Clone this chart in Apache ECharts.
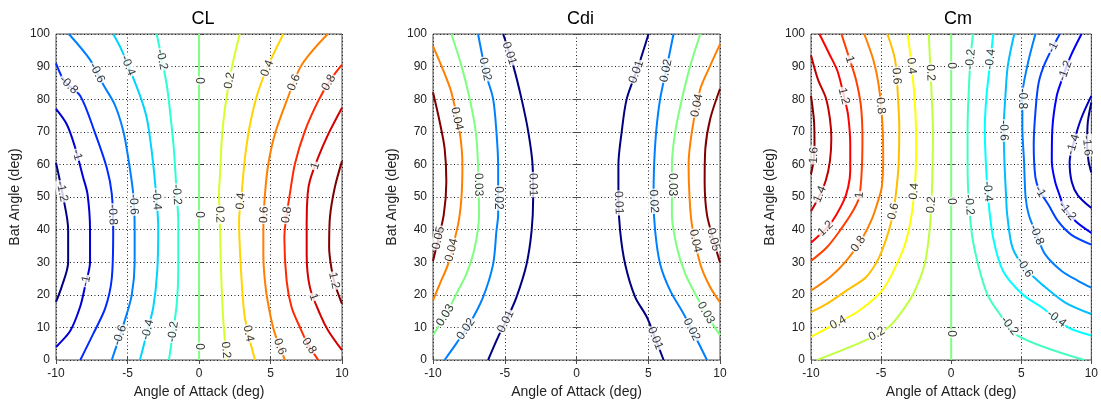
<!DOCTYPE html>
<html><head><meta charset="utf-8">
<script src="https://cdn.jsdelivr.net/npm/echarts@6/dist/echarts.min.js"></script>
<style>html,body{margin:0;padding:0;background:#fff}#c{width:1101px;height:404px}</style>
</head><body><div id="c"></div>
<script>
// ---------- DATA (contour polylines in data coordinates: [angle of attack, bat angle]) ----------
const xTicks = [-10, -5, 0, 5, 10];
const yTicks = [0, 10, 20, 30, 40, 50, 60, 70, 80, 90, 100];
const titles = ['CL', 'Cdi', 'Cm'];

// CL contours
const cl_levels = [-1.2, -1, -0.8, -0.6, -0.4, -0.2, 0, 0.2, 0.4, 0.6, 0.8, 1, 1.2];
const cl_m12 = [[-10,60.5],[-9.5,50],[-9.15,40],[-9.15,30],[-9.6,22.5],[-10,17.8]];
const cl_m10 = [[-10,77],[-9.25,72.3],[-8.67,65.3],[-8.1,56],[-7.8,51],[-7.62,40],[-7.62,30],[-7.95,23],[-8.3,16.5],[-9.0,9],[-10,4]];
const cl_m08 = [[-10,91],[-9.4,85.5],[-8.3,81],[-7.3,70],[-6.45,59],[-6.1,51],[-6.0,40],[-6.1,25],[-6.55,16],[-7.4,8],[-8.3,0]];
const cl_m06 = [[-9.1,100],[-7.6,92],[-6.7,84.5],[-5.9,78.4],[-5.3,70.3],[-4.95,62],[-4.6,51],[-4.5,40],[-4.5,30],[-4.7,20],[-5.2,12],[-6.1,0]];
const cl_m04 = [[-6.0,100],[-5.4,95],[-4.24,82.5],[-3.66,74.4],[-3.31,64.2],[-3.0,51],[-2.85,40.4],[-2.92,27.3],[-3.2,16.1],[-3.6,9],[-4.13,0]];
const cl_m02 = [[-2.96,100],[-2.26,84.5],[-1.98,74.4],[-1.75,64.2],[-1.56,51],[-1.45,42.5],[-1.45,27.3],[-1.56,17.1],[-1.8,9],[-2.1,0]];
const cl_z00 = [[0,0],[0,50],[0,100]];
const cl_p02 = [[2.85,100],[2.29,89.6],[1.82,77.4],[1.59,67.3],[1.47,57.1],[1.4,51],[1.47,40.4],[1.54,27.3],[1.7,12.1],[1.94,0]];
const cl_p04 = [[5.9,100],[4.97,91.6],[4.15,82.5],[3.57,72.3],[3.22,62.2],[2.98,51.1],[2.8,42.5],[2.94,27.3],[3.17,14.1],[3.5,7],[3.92,0]];
const cl_p06 = [[9.0,100],[7.88,94.6],[7.06,89.6],[6.13,79.5],[5.31,69.3],[4.85,60.2],[4.62,51.1],[4.5,40],[4.5,32.3],[4.66,22.2],[4.97,14.1],[5.31,8],[6.01,0]];
const cl_p08 = [[10,90.6],[9.2,86],[8.34,79.5],[7.41,70.3],[6.71,60.2],[6.36,51.1],[6.05,42],[5.97,37.4],[6.13,24.2],[6.48,16.1],[7.06,10],[7.6,5],[8.34,0]];
const cl_p10 = [[10,77.4],[9.04,69.3],[8.34,62.2],[7.76,55.1],[7.6,51],[7.53,42.5],[7.53,32.3],[7.76,22.2],[8.46,14.1],[9.04,9],[10,3]];
const cl_p12 = [[10,61],[9.5,53],[9.16,44],[9.1,34.5],[9.25,28.4],[9.5,23.3],[10,17.2]];
const cl_labels = [[-9.2,84,-0.8],[-7.28,87.7,-0.6],[-4.95,90.3,-0.4],[-2.5,92.3,-0.2],[0,85.7,0],[2.15,85.7,0.2],[4.6,89.8,0.4],[6.58,85.2,0.6],[9.02,85.2,0.8],[-8.56,62.9,-1],[7.97,59.8,1],[-9.6,51.7,-1.2],[-6.0,44.6,-0.8],[-4.48,47.7,-0.6],[-3.08,49.2,-0.4],[-1.57,50.7,-0.2],[0,44.6,0],[1.45,44.6,0.2],[2.97,48.7,0.4],[4.37,44.6,0.6],[6.04,44.6,0.8],[-7.97,24.3,-1],[9.37,24.3,1.2],[7.97,19.3,1],[-5.53,7.6,-0.6],[-3.43,9.1,-0.4],[-1.69,8.6,-0.2],[0,4.1,0],[1.69,3.0,0.2],[3.43,8.1,0.4],[5.65,4.1,0.6],[7.62,4.1,0.8]];

// Cdi contours (left and right branches)
const cdi_levels = [0.01, 0.02, 0.03, 0.04, 0.05];
const cdi_01a = [[-5.11,100],[-4.41,90.3],[-3.83,80.1],[-3.36,70],[-3.06,59.8],[-3.02,49.7],[-3.13,39.6],[-3.48,29.4],[-4.18,19.3],[-4.8,13],[-5.46,7.1],[-6.16,0]];
const cdi_01b = [[5.02,100],[4.3,90],[3.5,80.1],[3.15,70],[2.92,59.8],[2.92,49.7],[3.04,39.6],[3.39,29.4],[4.09,19.3],[4.9,13.2],[5.5,6.5],[6.07,0]];
const cdi_02a = [[-6.86,100],[-6.27,87.2],[-5.81,80.1],[-5.58,70],[-5.46,59.8],[-5.46,44.6],[-5.58,39.6],[-5.81,29.4],[-6.51,19.3],[-7.44,11.2],[-8.37,5.1],[-9.19,0]];
const cdi_02b = [[6.76,100],[6.3,90],[5.83,80.1],[5.55,70],[5.41,59.8],[5.37,49.7],[5.48,39.6],[5.83,29.4],[6.53,21.3],[7.46,14.2],[8.3,7],[9.09,0]];
const cdi_03a = [[-8.72,100],[-8.02,90.3],[-7.44,80.1],[-7.02,70],[-6.86,59.8],[-6.79,44.6],[-7.09,34.5],[-7.67,26.4],[-8.25,21.3],[-9.1,14],[-10,7.6]];
const cdi_03b = [[8.63,100],[7.93,90.3],[7.35,80.1],[6.88,70],[6.65,59.8],[6.65,44.6],[7.0,34.5],[7.58,26.4],[8.39,19.3],[9.2,13],[10,7.6]];
const cdi_04a = [[-10,96.3],[-9.42,90.3],[-8.72,82.1],[-8.14,70],[-7.95,59.8],[-8.02,49.7],[-8.25,41.6],[-8.95,29.4],[-9.53,23.3],[-10,18.3]];
const cdi_04b = [[10,96.9],[9.32,90.3],[8.63,83.2],[8.04,70],[7.81,59.8],[7.88,49.7],[8.04,41.6],[8.63,29.4],[9.32,22.3],[10,17.7]];
const cdi_05a = [[-10,82.1],[-9.53,73],[-9.19,64.9],[-9.07,54.8],[-9.25,44.6],[-9.77,34.5],[-10,30.4]];
const cdi_05b = [[10,83.2],[9.32,74],[8.98,64.9],[8.93,54.8],[9.09,44.6],[9.6,36],[10,29.9]];
const cdi_labels = [[-4.53,94.3,0.01],[-6.39,89.2,0.02],[-8.37,74,0.04],[-6.74,53.8,0.03],[-5.46,49.7,0.02],[-3.06,53.8,0.01],[-9.65,37.5,0.05],[-8.49,33.5,0.04],[-8.95,13.2,0.03],[-7.56,9.1,0.02],[-4.88,11.7,0.01],[3.97,88.7,0.01],[6.3,88.7,0.02],[8.39,78.1,0.04],[2.92,48.2,0.01],[5.48,48.7,0.02],[6.65,53.8,0.03],[8.28,36.5,0.04],[9.56,37,0.05],[5.13,6.1,0.01],[7.46,8.1,0.02],[8.51,13.2,0.03]];

// Cm contours
const cm_levels = [-1.6, -1.4, -1.2, -1, -0.8, -0.6, -0.4, -0.2, 0, 0.2, 0.4, 0.6, 0.8, 1, 1.2, 1.4, 1.6];
const cm_p16 = [[-10,81],[-9.78,73],[-9.75,66],[-9.82,61],[-10,57]];
const cm_p14 = [[-10,93.5],[-9.5,86],[-8.95,80.5],[-8.65,74],[-8.55,68],[-8.65,61],[-8.95,55],[-9.5,49.5],[-10,45.6]];
const cm_p12 = [[-9.4,100],[-8.65,93.5],[-8.1,88.5],[-7.6,80],[-7.35,75],[-7.2,66],[-7.2,58],[-7.35,53],[-7.7,48.5],[-8.65,41.6],[-10,36]];
const cm_p10 = [[-7.83,100],[-7.3,93],[-6.79,86],[-6.44,78],[-6.33,68],[-6.37,59],[-6.56,50],[-7.02,45.6],[-7.95,39.6],[-8.88,34.5],[-10,30.4]];
const cm_p08 = [[-6.2,100],[-5.55,92],[-5.16,84],[-4.9,72],[-4.85,61],[-4.95,53],[-5.15,49.7],[-5.62,43.6],[-6.32,37.5],[-7.48,30.4],[-8.65,25.4],[-10,21.3]];
const cm_p06 = [[-4.55,100],[-4.0,92],[-3.8,81],[-3.7,71],[-3.75,60],[-3.87,53.8],[-4.1,46],[-4.45,39.6],[-5.15,31.4],[-6.08,25.4],[-7.48,21.3],[-8.88,17.2],[-10,14.7]];
const cm_p04 = [[-3.1,100],[-2.72,86],[-2.55,76],[-2.5,66],[-2.55,56],[-2.82,44.6],[-3.29,35.5],[-3.99,28.4],[-4.92,21.3],[-6.55,15.2],[-8.18,11.2],[-10,7.1]];
const cm_p02 = [[-1.6,100],[-1.39,81],[-1.3,70],[-1.35,55],[-1.42,47.7],[-1.54,39.6],[-1.89,29.4],[-2.59,21.3],[-3.29,16.2],[-4.45,10.1],[-6.08,6.1],[-9.58,0]];
const cm_z00 = [[0,0],[0,50],[0,100]];
const cm_m02 = [[1.55,100],[1.36,91],[1.24,81],[1.17,71],[1.17,61],[1.24,50],[1.5,38],[2.0,28],[2.6,20],[3.4,14.5],[4.73,7.5],[9.5,0]];
const cm_m04 = [[3.0,100],[2.75,90],[2.52,81],[2.4,71],[2.47,61],[2.64,49.6],[3.0,37.4],[3.7,27.3],[5.08,20.2],[6.48,16.1],[8.34,10],[10,7.5]];
const cm_m06 = [[4.5,100],[4.04,90.2],[3.87,81],[3.75,71],[3.8,61],[3.92,50],[4.0,44.5],[4.38,34.4],[5.3,28],[6.48,23.2],[8.11,17.7],[10,14.1]];
const cm_m08 = [[6.01,100],[5.43,90.2],[5.08,81],[5.08,71],[5.2,61],[5.31,50],[5.54,44.5],[6.1,38.4],[6.71,32.4],[7.88,27.3],[9.04,24.3],[10,22.2]];
const cm_m10 = [[7.75,100],[6.71,91.2],[6.24,85],[6.01,76],[5.89,66],[6.01,56],[6.3,52],[6.94,47.6],[7.64,42.5],[8.58,38.4],[10,35.4]];
const cm_m12 = [[9.3,100],[8.5,93],[7.9,86],[7.53,81],[7.22,71],[7.18,61],[7.4,55],[7.7,51],[8.1,46.6],[8.9,42.5],[10,39]];
const cm_m14 = [[10,81],[9.27,74],[8.7,66],[8.45,60.8],[8.6,54.7],[9.04,50.5],[10,46.6]];
const cm_m16 = [[10,79],[9.75,73],[9.7,66],[9.8,61],[10,57.5]];
const cm_labels = [[-9.7,62.8,1.6],[-9.23,50.6,1.4],[-7.65,81,1.2],[-9.0,40.5,1.2],[-7.26,92.2,1],[-6.68,50.6,1],[-4.95,78,0.8],[-6.56,35.4,0.8],[-3.88,87.1,0.6],[-4.11,45.6,0.6],[-2.83,90.2,0.4],[-2.6,51.7,0.4],[-7.95,10.6,0.4],[-1.32,88.2,0.2],[-1.32,47.6,0.2],[-5.3,8,0.2],[0,90.3,0],[0,48.7,0],[0,8.1,0],[1.36,92.2,-0.2],[1.24,47.6,-0.2],[4.04,10,-0.2],[2.87,92.2,-0.4],[2.64,51.7,-0.4],[7.41,12.1,-0.4],[3.57,70.4,-0.6],[5.6,29.3,-0.6],[4.97,80.1,-0.8],[6.1,38.4,-0.8],[7.29,95.8,-1],[6.36,51.7,-1],[7.95,89,-1.2],[8.1,45,-1.2],[8.46,66.4,-1.4],[9.74,65.8,-1.6]];

// ---------- assembly ----------
const panels = [
  { levels: cl_levels, curves: [[-1.2,cl_m12],[-1,cl_m10],[-0.8,cl_m08],[-0.6,cl_m06],[-0.4,cl_m04],[-0.2,cl_m02],[0,cl_z00],[0.2,cl_p02],[0.4,cl_p04],[0.6,cl_p06],[0.8,cl_p08],[1,cl_p10],[1.2,cl_p12]], labels: cl_labels },
  { levels: cdi_levels, curves: [[0.01,cdi_01a],[0.01,cdi_01b],[0.02,cdi_02a],[0.02,cdi_02b],[0.03,cdi_03a],[0.03,cdi_03b],[0.04,cdi_04a],[0.04,cdi_04b],[0.05,cdi_05a],[0.05,cdi_05b]], labels: cdi_labels },
  { levels: cm_levels, curves: [[1.6,cm_p16],[1.4,cm_p14],[1.2,cm_p12],[1,cm_p10],[0.8,cm_p08],[0.6,cm_p06],[0.4,cm_p04],[0.2,cm_p02],[0,cm_z00],[-0.2,cm_m02],[-0.4,cm_m04],[-0.6,cm_m06],[-0.8,cm_m08],[-1,cm_m10],[-1.2,cm_m12],[-1.4,cm_m14],[-1.6,cm_m16]], labels: cm_labels }
];

const FONT = 'Liberation Sans, Arial, Helvetica, sans-serif';
const gridBoxes = [
  { left: 56, top: 34, width: 286, height: 329 },
  { left: 433, top: 34, width: 287, height: 329 },
  { left: 811, top: 34, width: 286, height: 329 }
];

function jet(t) {
  const c = v => Math.max(0, Math.min(1, v));
  const r = c(1.5 - Math.abs(4 * t - 3)), g = c(1.5 - Math.abs(4 * t - 2)), b = c(1.5 - Math.abs(4 * t - 1));
  const h = v => Math.round(v * 255).toString(16).padStart(2, '0');
  return '#' + h(r) + h(g) + h(b);
}

const chart = echarts.init(document.getElementById('c'), null, { renderer: 'canvas' });

const grid = gridBoxes.map(g => Object.assign({ show: true, borderColor: '#4d4d4d', borderWidth: 1, backgroundColor: '#fff' }, g));
const xAxis = [], yAxis = [], series = [], title = [];
panels.forEach((p, i) => {
  const g = gridBoxes[i];
  title.push({ text: titles[i], left: g.left + g.width / 2 - 1, top: 5, textAlign: 'center',
    textStyle: { fontSize: 18, fontWeight: 'normal', color: '#000', fontFamily: FONT } });
  const splitStyle = { show: true, lineStyle: { color: '#222', width: 1, type: [1, 2.5] } };
  const tick = { show: true, inside: true, length: 4, lineStyle: { color: '#4d4d4d' } };
  xAxis.push({ type: 'value', gridIndex: i, min: xTicks[0], max: xTicks[xTicks.length - 1], interval: xTicks[1] - xTicks[0],
    axisLine: { show: false }, axisTick: tick, splitLine: splitStyle,
    axisLabel: { fontSize: 12, color: '#222', margin: 8, fontFamily: FONT, showMinLabel: true, showMaxLabel: true },
    name: 'Angle of Attack (deg)', nameLocation: 'middle', nameGap: 25,
    nameTextStyle: { fontSize: 14, color: '#222', fontFamily: FONT } });
  xAxis.push({ type: 'value', gridIndex: i, position: 'top', min: xTicks[0], max: xTicks[xTicks.length - 1], interval: xTicks[1] - xTicks[0],
    axisLine: { show: false }, axisTick: tick, splitLine: { show: false }, axisLabel: { show: false } });
  yAxis.push({ type: 'value', gridIndex: i, min: yTicks[0], max: yTicks[yTicks.length - 1], interval: yTicks[1] - yTicks[0],
    axisLine: { show: false }, axisTick: tick, splitLine: splitStyle,
    axisLabel: { fontSize: 12, color: '#222', margin: 6, fontFamily: FONT, showMinLabel: true, showMaxLabel: true },
    name: 'Bat Angle (deg)', nameLocation: 'middle', nameGap: 34, nameRotate: 90,
    nameTextStyle: { fontSize: 14, color: '#222', fontFamily: FONT } });
  yAxis.push({ type: 'value', gridIndex: i, position: 'right', min: yTicks[0], max: yTicks[yTicks.length - 1], interval: yTicks[1] - yTicks[0],
    axisLine: { show: false }, axisTick: tick, splitLine: { show: false }, axisLabel: { show: false } });

  const lo = Math.min(...p.levels), hi = Math.max(...p.levels);
  p.curves.forEach(([lev, pts]) => {
    series.push({ type: 'line', xAxisIndex: 2 * i, yAxisIndex: 2 * i, data: pts, showSymbol: false, symbol: 'none',
      smooth: 0.3, silent: true, z: 3, lineStyle: { color: jet((lev - lo) / (hi - lo)), width: 2 } });
  });
  series.push({ id: 'labels' + i, type: 'scatter', xAxisIndex: 2 * i, yAxisIndex: 2 * i, data: [], symbolSize: 0, z: 6, silent: true });
});

chart.setOption({ animation: false, title, grid, xAxis, yAxis, series });

// place contour labels on their lines, oriented along the local direction
panels.forEach((p, i) => {
  const finder = { xAxisIndex: 2 * i, yAxisIndex: 2 * i };
  const px = d => chart.convertToPixel(finder, d);
  const items = p.labels.map(([x, y, lev]) => {
    const L = px([x, y]);
    let best = null;
    p.curves.filter(c => c[0] === lev).forEach(([, pts]) => {
      const pp = pts.map(px);
      for (let k = 0; k < pp.length - 1; k++) {
        const a = pp[k], b = pp[k + 1];
        const dx = b[0] - a[0], dy = b[1] - a[1];
        const len2 = dx * dx + dy * dy || 1;
        let t = ((L[0] - a[0]) * dx + (L[1] - a[1]) * dy) / len2;
        t = Math.max(0, Math.min(1, t));
        const q = [a[0] + t * dx, a[1] + t * dy];
        const d = Math.hypot(q[0] - L[0], q[1] - L[1]);
        if (!best || d < best.d) best = { d, q, dx, dy };
      }
    });
    let ang = Math.atan2(-best.dy, best.dx) * 180 / Math.PI;
    while (ang >= 90) ang -= 180;
    while (ang < -90) ang += 180;
    const dp = chart.convertFromPixel(finder, best.q);
    return { value: dp, label: { show: true, position: 'inside', formatter: String(lev), rotate: ang,
      fontSize: 12, color: '#000', fontFamily: FONT, backgroundColor: '#fff', padding: [0, 1] } };
  });
  chart.setOption({ series: [{ id: 'labels' + i, data: items }] });
});
</script></body></html>
